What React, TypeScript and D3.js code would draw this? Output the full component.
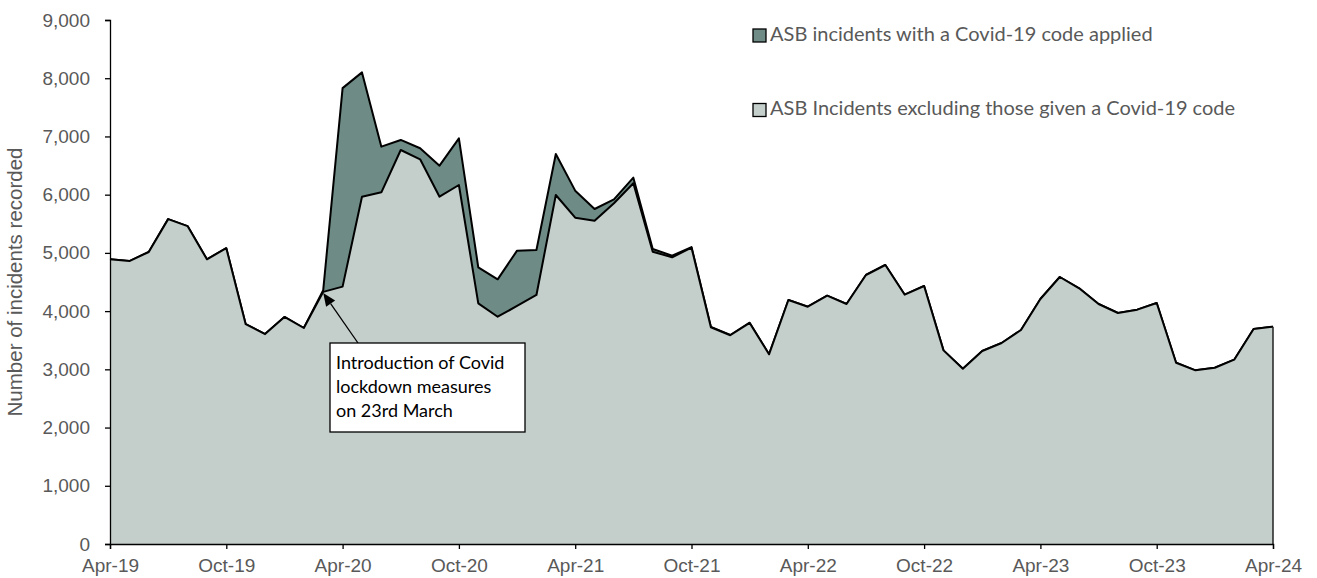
import { useEffect, useRef } from 'react'
import * as d3 from 'd3'

// Monthly ASB incidents, Apr-19 .. Apr-24
const months: string[] = []
for (let i = 0; i <= 60; i++) {
  const d = new Date(2019, 3 + i, 1)
  months.push(d3.timeFormat('%b-%y')(d))
}

const excludingCovid = [
  4890, 4860, 5015, 5580, 5460, 4890, 5080, 3775, 3605, 3900, 3710, 4330,
  4420, 5965, 6040, 6767, 6607, 5965, 6166, 4134, 3904, 4088, 4277, 5994,
  5605, 5553, 5852, 6196, 5021, 4924, 5090, 3722, 3585, 3796, 3258, 4191,
  4076, 4265, 4122, 4620, 4792, 4282, 4431, 3326, 3011, 3315, 3452, 3676,
  4208, 4586, 4391, 4122, 3968, 4025, 4139, 3114, 2983, 3028, 3166, 3693,
  3733,
]

const covidCoded = [
  0, 0, 0, 0, 0, 0, 0, 0, 0, 0, 0, 30,
  3410, 2135, 785, 173, 190, 533, 802, 618, 642, 950, 773, 705,
  464, 201, 68, 96, 46, 28, 10, 8, 5, 5, 0, 0,
  0, 0, 0, 0, 0, 0, 0, 0, 0, 0, 0, 0,
  0, 0, 0, 0, 0, 0, 0, 0, 0, 0, 0, 0,
  0,
]

const yTicks = [0, 1000, 2000, 3000, 4000, 5000, 6000, 7000, 8000, 9000]
const xTickLabels = ['Apr-19', 'Oct-19', 'Apr-20', 'Oct-20', 'Apr-21', 'Oct-21', 'Apr-22', 'Oct-22', 'Apr-23', 'Oct-23', 'Apr-24']

const legendLabels = [
  'ASB incidents with a Covid-19 code applied',
  'ASB Incidents excluding those given a Covid-19 code',
]

const annotationLines = ['Introduction of Covid', 'lockdown measures', 'on 23rd March']

const LIGHT = '#c4cecb'
const DARK = '#6e8b85'
const TEXT = '#595959'
const ARIAL = '"Liberation Sans", Arial, sans-serif'
const CALIBRI = 'Lato, "Open Sans", sans-serif'

export default function App() {
  const svgRef = useRef<SVGSVGElement>(null)

  useEffect(() => {
    if (!svgRef.current) return
    const W = 1317
    const H = 578
    const margin = { top: 20, right: 44, bottom: 34, left: 110 }

    d3.select(svgRef.current).selectAll('*').remove()
    const svg = d3.select(svgRef.current).attr('width', W).attr('height', H)

    const x = d3.scaleLinear().domain([0, months.length - 1]).range([margin.left, W - margin.right])
    const y = d3.scaleLinear().domain([0, 9000]).range([H - margin.bottom, margin.top])

    const rows = months.map((m, i) => ({
      i,
      base: excludingCovid[i],
      total: excludingCovid[i] + covidCoded[i],
    }))

    // dark (covid) band
    const darkArea = d3.area<any>()
      .x(d => x(d.i))
      .y0(d => y(d.base))
      .y1(d => y(d.total))
    svg.append('path')
      .datum(rows)
      .attr('d', darkArea)
      .attr('fill', DARK)

    const topLine = d3.line<any>().x(d => x(d.i)).y(d => y(d.total))
    svg.append('path')
      .datum(rows)
      .attr('d', topLine)
      .attr('fill', 'none')
      .attr('stroke', '#000')
      .attr('stroke-width', 2)
      .attr('stroke-linejoin', 'round')

    // light (excluding covid) area
    const lightArea = d3.area<any>()
      .x(d => x(d.i))
      .y0(y(0))
      .y1(d => y(d.base))
    svg.append('path')
      .datum(rows)
      .attr('d', lightArea)
      .attr('fill', LIGHT)

    const baseLine = d3.line<any>().x(d => x(d.i)).y(d => y(d.base))
    svg.append('path')
      .datum(rows)
      .attr('d', baseLine)
      .attr('fill', 'none')
      .attr('stroke', '#000')
      .attr('stroke-width', 2)
      .attr('stroke-linejoin', 'round')

    // right edge of area
    svg.append('line')
      .attr('x1', x(60)).attr('x2', x(60))
      .attr('y1', y(0)).attr('y2', y(excludingCovid[60]))
      .attr('stroke', '#222').attr('stroke-width', 1.5)

    // y axis
    const yAxis = d3.axisLeft(y)
      .tickValues(yTicks)
      .tickSize(5)
      .tickFormat(d3.format(','))
    const gy = svg.append('g')
      .attr('transform', `translate(${margin.left},0)`)
      .call(yAxis)
    gy.select('.domain').attr('stroke', '#000').attr('stroke-width', 1.3)
    gy.selectAll('.tick line').attr('stroke', '#000').attr('stroke-width', 1.3)
    gy.selectAll('.tick text')
      .attr('fill', TEXT)
      .attr('font-family', ARIAL)
      .attr('font-size', 19)
      .attr('x', -20)

    // x axis
    const xAxis = d3.axisBottom(x)
      .tickValues(xTickLabels.map((_, k) => k * 6))
      .tickSize(5)
      .tickFormat((_d, k) => xTickLabels[k])
    const gx = svg.append('g')
      .attr('transform', `translate(0,${y(0)})`)
      .call(xAxis)
    gx.select('.domain').attr('stroke', '#000').attr('stroke-width', 1.3)
    gx.selectAll('.tick line').attr('stroke', '#000').attr('stroke-width', 1.3)
    gx.selectAll('.tick text')
      .attr('fill', TEXT)
      .attr('font-family', ARIAL)
      .attr('font-size', 19)
      .attr('y', 15)

    // y axis title
    svg.append('text')
      .attr('transform', `translate(22,${(y(0) + y(9000)) / 2}) rotate(-90)`)
      .attr('text-anchor', 'middle')
      .attr('fill', TEXT)
      .attr('font-family', ARIAL)
      .attr('font-size', 20.5)
      .text('Number of incidents recorded')

    // legend
    const legendColors = [DARK, LIGHT]
    const legendY = [35.5, 110]
    legendLabels.forEach((label, k) => {
      svg.append('rect')
        .attr('x', 753).attr('y', legendY[k] - 6.5)
        .attr('width', 13).attr('height', 13)
        .attr('fill', legendColors[k])
        .attr('stroke', '#000').attr('stroke-width', 1.3)
      svg.append('text')
        .attr('x', 770).attr('y', legendY[k])
        .attr('dominant-baseline', 'middle')
        .attr('fill', TEXT)
        .attr('font-family', CALIBRI)
        .attr('font-size', 20)
        .text(label)
    })

    // annotation arrow
    const tipX = x(11)
    const tipY = y(excludingCovid[11]) + 1
    const fromX = 358
    const fromY = 343
    const dx = tipX - fromX
    const dy = tipY - fromY
    const len = Math.hypot(dx, dy)
    const ux = dx / len
    const uy = dy / len
    const headLen = 13
    const headW = 5.5
    const bx = tipX - ux * headLen
    const by = tipY - uy * headLen
    svg.append('line')
      .attr('x1', fromX).attr('y1', fromY)
      .attr('x2', bx).attr('y2', by)
      .attr('stroke', '#000').attr('stroke-width', 1.3)
    svg.append('path')
      .attr('d', `M${tipX},${tipY} L${bx - uy * headW},${by + ux * headW} L${bx + uy * headW},${by - ux * headW} Z`)
      .attr('fill', '#000')

    svg.append('rect')
      .attr('x', 330).attr('y', 343)
      .attr('width', 195).attr('height', 89)
      .attr('fill', '#fff')
      .attr('stroke', '#000').attr('stroke-width', 1.3)
    annotationLines.forEach((line, k) => {
      svg.append('text')
        .attr('x', 336).attr('y', 369 + k * 24)
        .attr('fill', '#000')
        .attr('font-family', CALIBRI)
        .attr('font-size', 18)
        .text(line)
    })
  }, [])

  return (
    <div style={{ position: 'absolute', left: 0, top: 0, width: 1317, height: 578, background: '#fff' }}>
      <svg ref={svgRef} style={{ display: 'block' }}></svg>
    </div>
  )
}
